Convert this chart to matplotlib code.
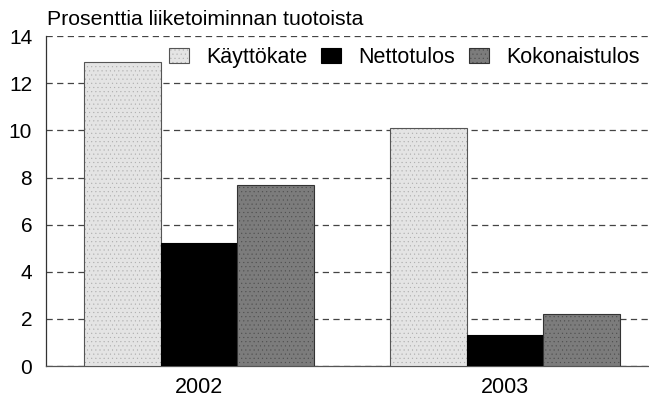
import matplotlib
matplotlib.use("Agg")
import matplotlib.pyplot as plt
import numpy as np

plt.rcParams['font.family'] = ['Liberation Sans', 'DejaVu Sans']

years = ["2002", "2003"]
series_names = ["Käyttökate", "Nettotulos", "Kokonaistulos"]
kayttokate = [12.9, 10.1]
nettotulos = [5.2, 1.3]
kokonaistulos = [7.7, 2.2]
y_ticks = [0, 2, 4, 6, 8, 10, 12, 14]
title = "Prosenttia liiketoiminnan tuotoista"

plt.rcParams['hatch.linewidth'] = 0.3

fig = plt.figure(figsize=(6.49, 3.97), dpi=100)
ax = fig.add_axes([0.0709, 0.078, 0.9291, 0.831])

x = np.arange(len(years))
w = 0.25
styles = [
    dict(facecolor="#e4e4e4", edgecolor="#555555", hatch="....", hc=(0.68, 0.68, 0.68, 1.0)),
    dict(facecolor="#000000", edgecolor="#000000", hatch=None, hc=None),
    dict(facecolor="#7c7c7c", edgecolor="#333333", hatch="....", hc=(0.3, 0.3, 0.3, 1.0)),
]

for i, (vals, name, st) in enumerate(zip([kayttokate, nettotulos, kokonaistulos], series_names, styles)):
    bars = ax.bar(x + (i - 1) * w, vals, width=w, label=name,
                  facecolor=st["facecolor"], edgecolor=st["edgecolor"],
                  linewidth=0.8, hatch=st["hatch"], zorder=3)
    if st["hc"] is not None:
        for b in bars:
            b._hatch_color = st["hc"]

ax.set_xlim(-0.5, 1.47)
ax.set_ylim(0, 14)
ax.set_yticks(y_ticks)
ax.set_xticks(x)
ax.set_xticklabels(years)
ax.tick_params(axis="y", length=0, labelsize=15, pad=10)
ax.tick_params(axis="x", length=0, labelsize=15.5, pad=8)
ax.yaxis.grid(True, linestyle=(0, (5, 3.5)), color="#444444", linewidth=0.9, zorder=1)
ax.set_axisbelow(True)

for s in ["top", "right"]:
    ax.spines[s].set_visible(False)
ax.spines["left"].set_color("#333333")
ax.spines["bottom"].set_color("#555555")
ax.spines["left"].set_linewidth(0.9)
ax.spines["bottom"].set_linewidth(0.9)

leg = ax.legend(loc="center right", bbox_to_anchor=(0.992, 0.936), ncol=3, frameon=True,
                fontsize=15.5, handlelength=0.93, handleheight=0.7, handletextpad=0.8,
                columnspacing=0.65, borderaxespad=0.0, borderpad=0.2, fancybox=False)
leg.get_frame().set_facecolor("white")
leg.get_frame().set_edgecolor("white")
leg.get_frame().set_linewidth(0)

fig.text(0.0724, 0.950, title, fontsize=15.3, ha="left", va="center")

fig.savefig("out.png", dpi=100)
